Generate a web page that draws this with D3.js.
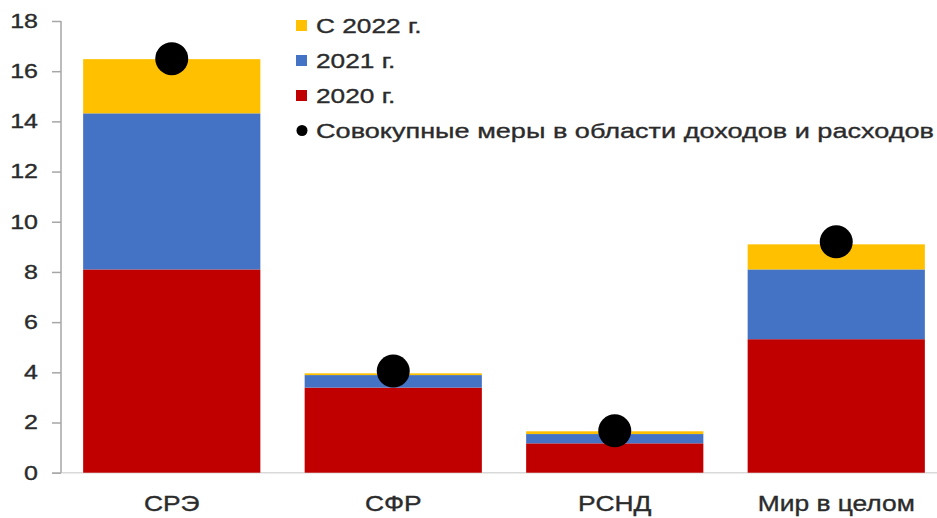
<!DOCTYPE html>
<html><head><meta charset="utf-8">
<script src="https://cdn.jsdelivr.net/npm/d3@7"></script>
<style>body{margin:0;background:#fff}svg{display:block}text{font-family:"Liberation Sans",Arial,sans-serif;fill:#2b2b2b;stroke:#2b2b2b;stroke-width:0.35px}</style>
</head><body><svg id="c" width="937" height="518"></svg>
<script>
const categories = ["СРЭ", "СФР", "РСНД", "Мир в целом"];
const v2020 = [8.1, 3.39, 1.17, 5.32];
const v2021 = [6.22, 0.5, 0.37, 2.78];
const v2022 = [2.16, 0.07, 0.11, 1.0];
const totalMeasures = [16.5, 4.05, 1.67, 9.2];
const yTicks = [0, 2, 4, 6, 8, 10, 12, 14, 16, 18];
const seriesNames = ["2020 г.", "2021 г.", "С 2022 г."];
const legendLabels = ["С 2022 г.", "2021 г.", "2020 г.", "Совокупные меры в области доходов и расходов"];
const colors = {"2020 г.": "#C00000", "2021 г.": "#4472C4", "С 2022 г.": "#FFC000"};

const SX = 1.25;
const svg = d3.select("#c");
const y = d3.scaleLinear().domain([0, 18]).range([472.7, 21]);
const x = d3.scaleBand().domain(categories).range([61, 947]).paddingInner(0.2).paddingOuter(0.1);

const rows = categories.map((c, i) => ({cat: c, "2020 г.": v2020[i], "2021 г.": v2021[i], "С 2022 г.": v2022[i]}));
const stacked = d3.stack().keys(seriesNames)(rows);

// baseline
svg.append("line").attr("x1", 52).attr("x2", 937).attr("y1", y(0)).attr("y2", y(0))
  .attr("stroke", "#d9d9d9").attr("stroke-width", 1.5);

stacked.forEach(s => {
  svg.append("g").selectAll("rect").data(s).join("rect")
    .attr("x", d => x(d.data.cat))
    .attr("width", x.bandwidth())
    .attr("y", d => y(d[1]))
    .attr("height", d => y(d[0]) - y(d[1]))
    .attr("fill", colors[s.key]);
});

// y axis
const yAxis = d3.axisLeft(y).tickValues(yTicks).tickSize(9).tickPadding(14);
const ga = svg.append("g").attr("transform", "translate(61,0)").call(yAxis);
ga.select(".domain").attr("stroke", "#a6a6a6").attr("stroke-width", 1.5).attr("d", `M0,${y(18)}V${y(0)}`);
ga.selectAll(".tick line").attr("stroke", "#a6a6a6").attr("stroke-width", 1.5);
ga.selectAll(".tick text").attr("font-size", 20).attr("font-family", null).attr("fill", null)
  .attr("x", 0).attr("transform", `translate(-23,0) scale(${SX},1)`);

// x labels
svg.append("g").selectAll("text").data(categories).join("text")
  .attr("transform", d => `translate(${x(d) + x.bandwidth() / 2},511) scale(1.2,1)`)
  .attr("text-anchor", "middle").attr("font-size", 22).text(d => d);

// dots
svg.append("g").selectAll("circle").data(categories).join("circle")
  .attr("cx", d => x(d) + x.bandwidth() / 2)
  .attr("cy", (d, i) => y(totalMeasures[i]))
  .attr("r", 16.5).attr("fill", "#000");

// legend
const lg = svg.append("g");
legendLabels.forEach((t, i) => {
  const cy = 25.5 + i * 35;
  if (i < 3) {
    lg.append("rect").attr("x", 296).attr("y", cy - 5.5).attr("width", 11).attr("height", 11).attr("fill", colors[t]);
  } else {
    lg.append("circle").attr("cx", 302).attr("cy", cy).attr("r", 5.5).attr("fill", "#000");
  }
  const tx = lg.append("text").attr("transform", `translate(316,${cy + 7}) scale(${SX},1)`)
    .attr("font-size", 21).text(t);
  if (i === 3) tx.attr("textLength", 618 / SX).attr("lengthAdjust", "spacingAndGlyphs");
});
</script></body></html>
